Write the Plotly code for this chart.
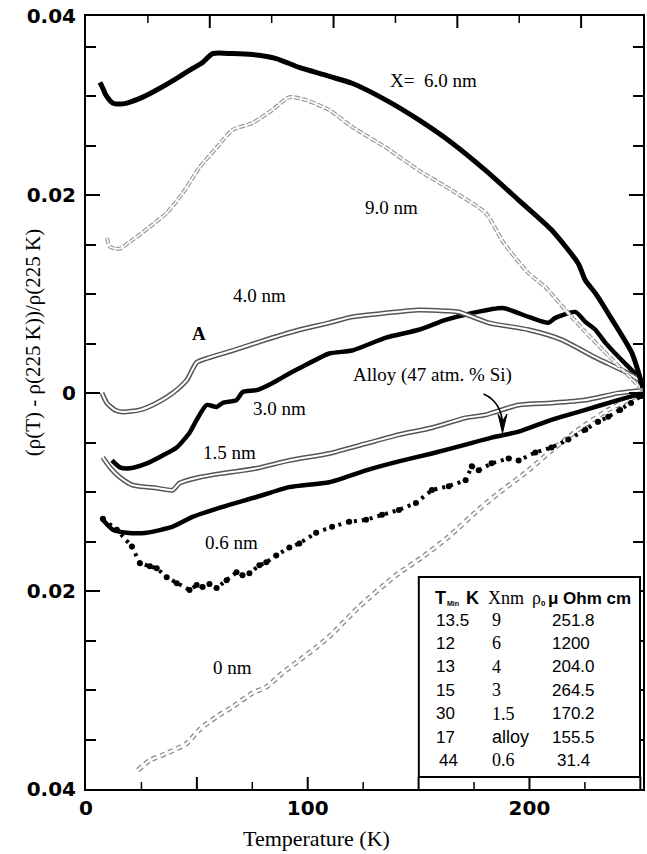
import plotly.graph_objects as go

# ---------------- data ----------------
x_60 = [6.3, 7.6, 9.0, 12.1, 15.3, 18.4, 25.6, 33.3, 40.9, 48.1, 52.6, 57.1, 66.1, 75.1, 85.8, 96.2,
        109.7, 120.0, 135.3, 150.1, 164.9, 180.2, 195.1, 209.9, 222.0, 225.2, 229.7, 237.3, 246.3, 251.2]
y_60 = [0.0314, 0.0308, 0.0301, 0.0293, 0.0292, 0.0293, 0.0299, 0.0308, 0.0318, 0.0328, 0.0334, 0.0343,
        0.0343, 0.0342, 0.0338, 0.0329, 0.0320, 0.0313, 0.0296, 0.0276, 0.0253, 0.0225, 0.0195, 0.0165,
        0.0131, 0.0114, 0.0101, 0.0074, 0.0040, 0.0005]

x_90 = [9.4, 10.8, 13.0, 15.3, 21.1, 28.8, 36.4, 43.6, 51.2, 58.9, 66.1, 75.1, 84.0, 91.7, 99.3, 109.7,
        120.0, 135.3, 150.1, 164.9, 180.2, 188.3, 199.6, 207.2, 216.2, 224.3, 233.3, 242.2, 251.2]
y_90 = [0.0157, 0.0148, 0.0146, 0.0146, 0.0155, 0.0168, 0.0182, 0.0202, 0.0228, 0.0248, 0.0266, 0.0273,
        0.0286, 0.0299, 0.0296, 0.0286, 0.0269, 0.0248, 0.0225, 0.0205, 0.0182, 0.0152, 0.0121, 0.0107,
        0.0084, 0.0064, 0.0043, 0.0023, 0.0003]

x_40 = [7.2, 9.4, 13.0, 16.6, 24.3, 31.9, 39.1, 45.4, 49.9, 54.4, 66.1, 81.3, 96.2, 109.7, 120.0, 135.3,
        150.1, 162.2, 168.1, 181.6, 199.6, 214.4, 229.7, 244.5, 251.2]
y_40 = [0.0000, -0.0010, -0.0017, -0.0019, -0.0017, -0.0010, 0.0000, 0.0013, 0.0031, 0.0035, 0.0043,
        0.0054, 0.0064, 0.0071, 0.0077, 0.0081, 0.0084, 0.0083, 0.0082, 0.0071, 0.0064, 0.0054, 0.0036,
        0.0020, 0.0011]

x_30 = [11.7, 15.3, 19.8, 27.4, 34.6, 40.9, 46.7, 49.9, 54.4, 58.9, 61.6, 67.9, 70.6, 76.9, 84.0, 90.3,
        96.2, 109.7, 120.0, 135.3, 150.1, 162.2, 174.4, 187.9, 199.6, 208.5, 211.7, 220.7, 225.2, 229.7,
        234.2, 238.7, 244.0, 249.0, 251.2]
y_30 = [-0.0068, -0.0075, -0.0076, -0.0071, -0.0063, -0.0055, -0.0040, -0.0027, -0.0012, -0.0014,
        -0.0010, -0.0007, 0.0001, 0.0003, 0.0010, 0.0018, 0.0025, 0.0040, 0.0043, 0.0056, 0.0064, 0.0074,
        0.0081, 0.0086, 0.0077, 0.0071, 0.0076, 0.0082, 0.0072, 0.0064, 0.0051, 0.0040, 0.0028, 0.0016,
        0.0003]

x_15 = [7.6, 10.8, 15.3, 21.1, 31.9, 39.1, 42.2, 51.2, 61.6, 76.9, 91.7, 109.7, 126.3, 141.1, 156.0,
        171.2, 180.2, 195.1, 209.9, 225.2, 240.0, 251.2]
y_15 = [-0.0065, -0.0075, -0.0085, -0.0093, -0.0096, -0.0098, -0.0091, -0.0085, -0.0081, -0.0076,
        -0.0068, -0.0061, -0.0051, -0.0042, -0.0035, -0.0025, -0.0022, -0.0012, -0.0010, -0.0007, 0.0000,
        0.0003]

x_alloy = [7.6, 12.1, 18.4, 27.4, 39.1, 48.1, 61.6, 76.9, 91.7, 109.7, 126.3, 141.1, 156.0, 171.2, 182.9,
           195.1, 209.9, 225.2, 240.0, 251.2]
y_alloy = [-0.0128, -0.0138, -0.0141, -0.0141, -0.0135, -0.0125, -0.0115, -0.0105, -0.0095, -0.0090,
           -0.0078, -0.0069, -0.0061, -0.0052, -0.0045, -0.0039, -0.0027, -0.0017, -0.0007, 0.0000]

x_06 = [7.6, 13.9, 20.7, 24.3, 28.8, 31.9, 36.4, 40.9, 46.7, 49.9, 52.6, 55.7, 58.9, 63.4, 67.9, 70.6,
        73.7, 78.2, 81.3, 85.8, 91.7, 96.2, 103.8, 111.0, 118.7, 126.3, 133.5, 141.1, 148.8, 156.0, 163.6,
        171.2, 174.0, 177.1, 182.9, 190.6, 195.1, 202.7, 209.9, 217.5, 225.2, 231.0, 235.5, 240.9, 245.8,
        250.3]
y_06 = [-0.0127, -0.0138, -0.0155, -0.0172, -0.0175, -0.0177, -0.0186, -0.0192, -0.0199, -0.0194,
        -0.0196, -0.0193, -0.0197, -0.0189, -0.0181, -0.0184, -0.0182, -0.0174, -0.0171, -0.0164, -0.0156,
        -0.0152, -0.0141, -0.0135, -0.0130, -0.0128, -0.0123, -0.0118, -0.0111, -0.0098, -0.0094, -0.0088,
        -0.0074, -0.0078, -0.0071, -0.0066, -0.0068, -0.0060, -0.0055, -0.0047, -0.0037, -0.0029, -0.0024,
        -0.0017, -0.0010, -0.0003]

x_00 = [23.4, 28.8, 36.4, 45.4, 51.2, 58.9, 66.1, 75.1, 81.3, 88.5, 96.2, 103.8, 109.7, 123.1, 139.8,
        151.5, 163.6, 178.4, 186.1, 199.6, 209.9, 222.0, 235.5, 251.2]
y_00 = [-0.0381, -0.0371, -0.0364, -0.0354, -0.0340, -0.0327, -0.0317, -0.0303, -0.0297, -0.0283,
        -0.0270, -0.0257, -0.0246, -0.0216, -0.0184, -0.0166, -0.0145, -0.0115, -0.0101, -0.0078, -0.0058,
        -0.0037, -0.0017, 0.0000]

y_tickvals = [-0.04, -0.02, 0, 0.02, 0.0381]
y_ticktext = ["0.04", "0.02", "0", "0.02", "0.04"]
x_ticks_bottom = [25, 50, 75, 100, 125, 150, 175, 200, 225, 250]   # bottom tick marks (K)
x_ticks_top = [25, 50, 75, 100, 125, 150, 175, 200]                 # top frame tick marks (0-225 scale)

table_tmin = ["13.5", "12", "13", "15", "30", "17", "44"]
table_x = ["9", "6", "4", "3", "1.5", "alloy", "0.6"]
table_rho = ["251.8", "1200", "204.0", "264.5", "170.2", "155.5", "31.4"]

# ---------------- layout geometry ----------------
W, H = 647, 854
L, R, T, B = 86, 645, 16, 789
XR = [0, 251.2]


def px(xp):
    return (xp - L) / (R - L)


def py(yp):
    return (B - yp) / (B - T)


SERIF = "Liberation Serif"
SANS = "Liberation Sans"

fig = go.Figure()


def solid(x, y, width=4.5):
    fig.add_trace(go.Scatter(x=x, y=y, mode="lines",
                             line=dict(color="black", width=width, shape="spline", smoothing=0.6),
                             hoverinfo="skip"))


def tube(x, y, color, wo, wi, dash="solid"):
    fig.add_trace(go.Scatter(x=x, y=y, mode="lines",
                             line=dict(color=color, width=wo, shape="spline", smoothing=0.6, dash=dash),
                             hoverinfo="skip"))
    fig.add_trace(go.Scatter(x=x, y=y, mode="lines",
                             line=dict(color="white", width=wi, shape="spline", smoothing=0.6, dash=dash),
                             hoverinfo="skip"))


tube(x_00, y_00, "#8a8a8a", 5, 2.4, dash="5px,4px")
fig.add_trace(go.Scatter(x=x_06, y=y_06, mode="lines+markers",
                         line=dict(color="black", width=4, dash="3px,5px"),
                         marker=dict(color="black", size=6), hoverinfo="skip"))
solid(x_alloy, y_alloy, width=4.5)
tube(x_15, y_15, "#555555", 5, 2)
solid(x_30, y_30, width=4.5)
tube(x_40, y_40, "#555555", 5, 2)
tube(x_90, y_90, "#9a9a9a", 4, 1.6, dash="6px,2px")
solid(x_60, y_60, width=5)

# ---------------- annotations ----------------
ann = []


def label(xp, yp, text, size=19, family=SERIF, xanchor="center", yanchor="middle", **kw):
    ann.append(dict(x=px(xp), y=py(yp), xref="paper", yref="paper", text=text, showarrow=False,
                    xanchor=xanchor, yanchor=yanchor, font=dict(family=family, size=size, color="black"),
                    **kw))


label(435, 80, "X=  6.0 nm")
label(393, 208, "9.0 nm")
label(260, 295, "4.0 nm")
label(199, 333, "<b>A</b>", size=19)
label(280, 408, "3.0 nm")
label(230, 452, "1.5 nm")
label(232, 542, "0.6 nm")
label(233, 667, "0 nm")
label(434, 375, "Alloy (47 atm. % Si)")

# axis titles
label(317, 838, "Temperature (K)", size=22)
label(33, 343, "(ρ(T) - ρ(225 K))/ρ(225 K)", size=21, textangle=-90)

# table
hdr_y = 598
label(434, hdr_y, "<b>T</b>", size=18, family=SANS, xanchor="left")
label(446, hdr_y + 5, "<b>Min</b>", size=7, family=SANS, xanchor="left")
label(465, hdr_y, "<b>K</b>", size=18, family=SANS, xanchor="left")
label(487, hdr_y, "Xnm", size=18, xanchor="left")
label(532, hdr_y, "ρ", size=18, xanchor="left")
label(541, hdr_y + 5, "<b>0</b>", size=8, family=SANS, xanchor="left")
label(548, hdr_y, "<b>μ Ohm cm</b>", size=17, family=SANS, xanchor="left")
for i in range(len(table_tmin)):
    yy = 620 + i * 23.4
    label(435 if i < 6 else 438, yy, table_tmin[i], size=17, family=SANS, xanchor="left")
    fam = SANS if table_x[i] == "alloy" else SERIF
    label(491, yy, table_x[i], size=18, family=fam, xanchor="left")
    label(552 if i != 6 else 557, yy, table_rho[i], size=17, family=SANS, xanchor="left")

shapes = [
    dict(type="rect", xref="paper", yref="paper", x0=px(420), x1=px(642), y0=py(777), y1=py(577),
         line=dict(color="black", width=2), fillcolor="white", layer="above"),
    # curved arrow
    dict(type="path", xref="paper", yref="paper",
         path=f"M {px(485)} {py(394)} Q {px(503)} {py(402)} {px(504)} {py(424)}",
         line=dict(color="black", width=1.6)),
    dict(type="path", xref="paper", yref="paper",
         path=f"M {px(499.5)} {py(414)} L {px(504)} {py(433)} L {px(508.5)} {py(414)} L {px(504)} {py(421)} Z",
         line=dict(color="black", width=1), fillcolor="black"),
]

# inward tick marks of the temperature axis (bottom) and of the top frame
PH = B - T
for tv in x_ticks_bottom:
    ln = 12 if tv % 50 == 0 else 7
    shapes.append(dict(type="line", xref="x", yref="paper", x0=tv, x1=tv, y0=0, y1=ln / PH,
                       line=dict(color="black", width=2 if tv % 50 == 0 else 1.5)))
for tv in x_ticks_top:
    ln = 12 if tv % 50 == 0 else 7
    xx = tv / 225.0
    shapes.append(dict(type="line", xref="paper", yref="paper", x0=xx, x1=xx, y0=1, y1=1 - ln / PH,
                       line=dict(color="black", width=2 if tv % 50 == 0 else 1.5)))

fig.update_layout(
    width=W, height=H, autosize=False,
    margin=dict(l=L, r=W - R, t=T, b=H - B, pad=0),
    paper_bgcolor="white", plot_bgcolor="white",
    showlegend=False,
    annotations=ann, shapes=shapes,
    xaxis=dict(range=XR, tickmode="linear", tick0=0, dtick=100, ticks="",
               showline=True, linecolor="black", linewidth=2, mirror=True,
               showgrid=False, zeroline=False,
               tickfont=dict(family="DejaVu Sans", size=20, color="black", weight="bold")),
    yaxis=dict(range=[-0.04, 0.0381], tickvals=y_tickvals, ticktext=y_ticktext,
               ticks="inside", ticklen=14, tickwidth=2, tickcolor="black",
               minor=dict(dtick=0.005, tick0=0, ticks="inside", ticklen=10, tickwidth=1.5,
                          tickcolor="black"),
               showline=True, linecolor="black", linewidth=2, mirror="ticks",
               showgrid=False, zeroline=False, ticklabelstandoff=4,
               tickfont=dict(family="DejaVu Sans", size=20, color="black", weight="bold")),
)

fig.write_html("out.html")
